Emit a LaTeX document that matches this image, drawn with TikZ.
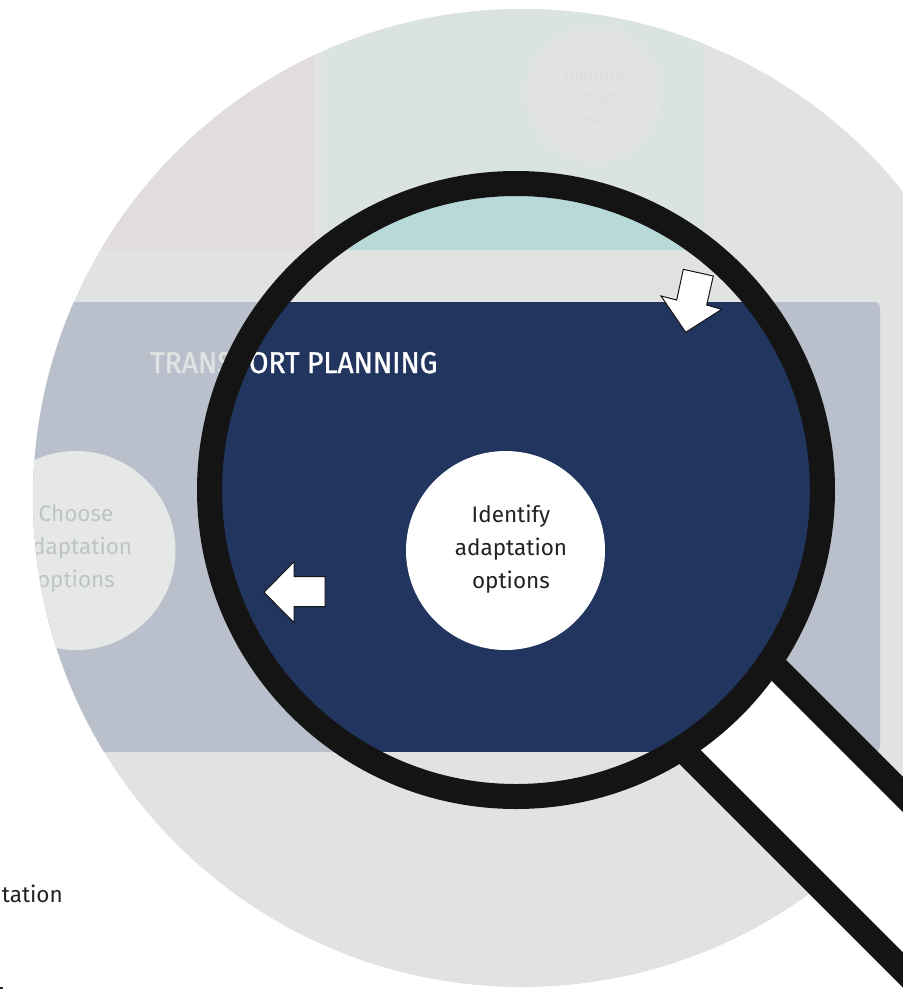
\documentclass[tikz,border=0pt]{standalone}
\usepackage{fontspec}
\setmainfont{Fira Sans}
\newfontfamily\titlefont[FakeStretch=0.94,FakeBold=1.2]{Fira Sans}
\definecolor{bgcirc}{HTML}{E1E3E2}
\definecolor{panellight}{HTML}{B9C0CB}
\definecolor{paneldark}{HTML}{21355F}
\definecolor{tealpale}{HTML}{DAE3E2}
\definecolor{tealdeep}{HTML}{B7D9D7}
\definecolor{pinkpale}{HTML}{E1DDDF}
\definecolor{fadecirc}{HTML}{E6E8E8}
\definecolor{fadetext}{HTML}{BFC3C3}
\definecolor{ghosttext}{HTML}{DBDEDD}
\definecolor{inkblack}{HTML}{141414}
\definecolor{bodyink}{HTML}{222222}
\tikzset{
  x=1pt,y=-1pt,
  stepcircle/.style={circle,inner sep=0pt,minimum size=199pt},
  steptext/.style={align=center,inner sep=0pt,font=\fontsize{22.5}{33}\selectfont},
  blockarrow/.style={fill=white,draw=inkblack,line width=1pt,line join=miter},
  handleline/.style={draw=inkblack,line width=25pt,line cap=butt},
  lensring/.style={circle,draw=inkblack,line width=25pt,inner sep=0pt,minimum size=613pt},
}
\begin{document}
\begin{tikzpicture}
\useasboundingbox (0,0) rectangle (903,989);
\clip (0,0) rectangle (903,989);
% big backdrop circle and its faded content
\begin{scope}
  \clip (522,498) circle[radius=489];
  \fill[bgcirc] (0,0) rectangle (903,989);
  \fill[pinkpale] (0,0) rectangle (314,250);
  \fill[tealpale] (323,0) rectangle (704,250);
  \fill[panellight,rounded corners=5pt] (-20,302) rectangle (880,752);
  \node[circle,fill=bgcirc,inner sep=0pt,minimum size=136pt] (risks) at (594,94) {};
  \node[align=center,inner sep=0pt,text=ghosttext,font=\fontsize{17}{22}\selectfont] (riskstext) at (594,96) {Identify\\climate\\risks};
  \node[stepcircle,fill=fadecirc] (choose) at (76,550.5) {};
  \node[steptext,text=fadetext] (choosetext) at (76,548.7) {Choose\\adaptation\\options};
\end{scope}
% magnifier handle
\coordinate (hlowA) at (680,747);
\coordinate (hlowB) at (950,1017);
\coordinate (hupA) at (772,663.5);
\coordinate (hupB) at (1042,933.5);
\fill[white] (hlowA) -- (hupA) -- (hupB) -- (hlowB) -- cycle;
\draw[handleline] (hlowA) -- (hlowB);
\draw[handleline] (hupA) -- (hupB);
% view through the lens
\begin{scope}
  \clip (516,490) circle[radius=306];
  \fill[bgcirc] (190,160) rectangle (840,820);
  \fill[tealdeep] (323,0) rectangle (704,250);
  \fill[paneldark] (-20,302) rectangle (880,752);
\end{scope}
\node[anchor=base west,inner sep=0pt,font=\titlefont\fontsize{30}{32}\selectfont] (title) at (150,373) {\textcolor{bgcirc}{TRANS}\textcolor{white}{PORT PLANNING}};
\node[lensring] (lens) at (516,490) {};
\node[stepcircle,fill=white] (identify) at (505.5,550.5) {};
\node[steptext,text=bodyink] (identifytext) at (511,549.5) {Identify\\adaptation\\options};
\draw[blockarrow] (264,592.3) -- (294,561.7) -- (294,576.7) -- (325,576.7) -- (325,606.7) -- (294,606.7) -- (294,622.7) -- cycle;
\draw[blockarrow] (683.3,269.3) -- (713.3,276) -- (706.7,305) -- (721.7,309.3) -- (685.7,332.3) -- (661,296) -- (676.7,300) -- cycle;
\node[anchor=base east,inner sep=0pt,text=bodyink,font=\fontsize{22.5}{33}\selectfont] (cutoff) at (63,902) {tation};
\fill[bodyink] (0,987) rectangle (2.5,989);
\end{tikzpicture}
\end{document}
